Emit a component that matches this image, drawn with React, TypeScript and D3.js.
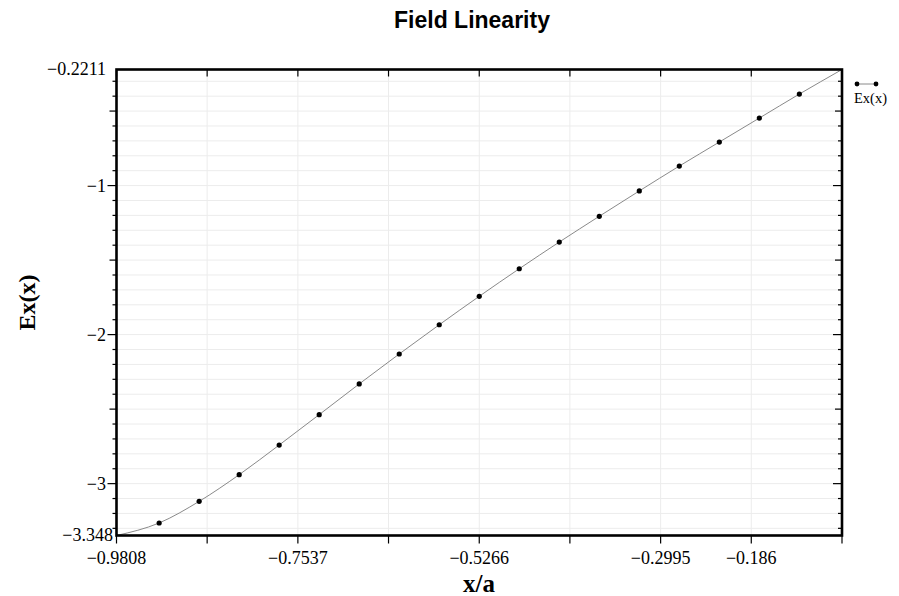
import React from "react";
import * as d3 from "d3";

const xValues = [-0.9274, -0.8773, -0.8272, -0.7771, -0.727, -0.6769, -0.6268, -0.5767, -0.5266, -0.4765, -0.4264, -0.3763, -0.3262, -0.2761, -0.226, -0.1759, -0.1258];
const yValues = [-3.264, -3.119, -2.94, -2.741, -2.537, -2.331, -2.13, -1.934, -1.743, -1.558, -1.379, -1.206, -1.036, -0.869, -0.708, -0.547, -0.386];
const lineStart = [-0.9808, -3.348];
const lineEnd = [-0.0724, -0.2211];
const xTicks = [-0.9808, -0.8673, -0.7537, -0.6402, -0.5266, -0.4131, -0.2995, -0.186, -0.0724];
const xTickLabels = ["\u22120.9808", "", "\u22120.7537", "", "\u22120.5266", "", "\u22120.2995", "\u22120.186", ""];
const yTickLabelValues = [-0.2211, -1, -2, -3, -3.348];
const yTickLabels = ["\u22120.2211", "\u22121", "\u22122", "\u22123", "\u22123.348"];
const yDomain = [-3.348, -0.2211];

const W = 899, H = 596;
const L = 116.5, R = 842, T = 69.5, B = 535.5;

export default function App() {
  const x = d3.scaleLinear().domain([lineStart[0], lineEnd[0]]).range([L, R]);
  const y = d3.scaleLinear().domain(yDomain).range([B, T]);
  const pts: [number, number][] = xValues.map((v, i) => [v, yValues[i]]);
  const linePts: [number, number][] = [[lineStart[0], lineStart[1]], ...pts, [lineEnd[0], lineEnd[1]]];
  const line = d3.line<[number, number]>().x(d => x(d[0])).y(d => y(d[1])).curve(d3.curveMonotoneX);
  const minorK = d3.range(-33, -2); // tenths
  const serif = "'Liberation Serif', 'Times New Roman', serif";
  return (
    <svg width={W} height={H} style={{ position: "absolute", left: 0, top: 0, background: "#fff" }}>
      <rect x={0} y={0} width={W} height={H} fill="#fff" />
      <text x={472} y={28} textAnchor="middle" fontFamily="'Liberation Sans', Arial, sans-serif" fontWeight="bold" fontSize={23} fill="#000">Field Linearity</text>
      {/* grid */}
      {minorK.map(k => (
        <line key={"gh" + k} x1={L} x2={R} y1={y(k / 10)} y2={y(k / 10)} stroke="#ececec" strokeWidth={1} />
      ))}
      {xTicks.slice(1, -1).map((v, i) => (
        <line key={"gv" + i} x1={x(v)} x2={x(v)} y1={T} y2={B} stroke="#ececec" strokeWidth={1} />
      ))}
      {/* data line */}
      <path d={line(linePts) || ""} fill="none" stroke="#8a8a8a" strokeWidth={1} />
      {pts.map((p, i) => (
        <circle key={"p" + i} cx={x(p[0])} cy={y(p[1])} r={2.6} fill="#000" />
      ))}
      {/* left & right ticks */}
      {minorK.map(k => {
        const len = k % 10 === 0 ? 9 : k % 5 === 0 ? 7 : 4;
        const yy = y(k / 10);
        return (
          <g key={"yt" + k}>
            <line x1={L - len} x2={L} y1={yy} y2={yy} stroke="#000" strokeWidth={1.2} />
            <line x1={R - len} x2={R} y1={yy} y2={yy} stroke="#000" strokeWidth={1.2} />
          </g>
        );
      })}
      {/* top & bottom ticks */}
      {xTicks.map((v, i) => (
        <g key={"xt" + i}>
          <line x1={x(v)} x2={x(v)} y1={B} y2={B + 8} stroke="#000" strokeWidth={1.2} />
          <line x1={x(v)} x2={x(v)} y1={T} y2={T + 7} stroke="#000" strokeWidth={1.2} />
        </g>
      ))}
      {/* frame */}
      <rect x={L} y={T} width={R - L} height={B - T} fill="none" stroke="#000" strokeWidth={2.6} />
      {/* x tick labels */}
      {xTicks.map((v, i) => xTickLabels[i] ? (
        <text key={"xl" + i} x={x(v)} y={564} textAnchor="middle" fontFamily={serif} fontSize={18} fill="#000">{xTickLabels[i]}</text>
      ) : null)}
      {/* y tick labels */}
      {yTickLabelValues.map((v, i) => {
        const ends = i === yTickLabelValues.length - 1 ? 113 : 106;
        return (
          <text key={"yl" + i} x={ends} y={y(v)} dy="0.33em" textAnchor="end" fontFamily={serif} fontSize={18} fill="#000">{yTickLabels[i]}</text>
        );
      })}
      {/* axis titles */}
      <text x={479} y={592} textAnchor="middle" fontFamily={serif} fontWeight="bold" fontSize={25} fill="#000">x/a</text>
      <text transform={`translate(35,${(T + B) / 2}) rotate(-90)`} textAnchor="middle" fontFamily={serif} fontWeight="bold" fontSize={24} fill="#000">Ex(x)</text>
      {/* legend */}
      <line x1={857} x2={876} y1={84} y2={84} stroke="#8a8a8a" strokeWidth={1} />
      <circle cx={857} cy={84} r={2.4} fill="#000" />
      <circle cx={876} cy={84} r={2.4} fill="#000" />
      <text x={870.5} y={103} textAnchor="middle" fontFamily={serif} fontSize={14.5} fill="#000">Ex(x)</text>
    </svg>
  );
}
